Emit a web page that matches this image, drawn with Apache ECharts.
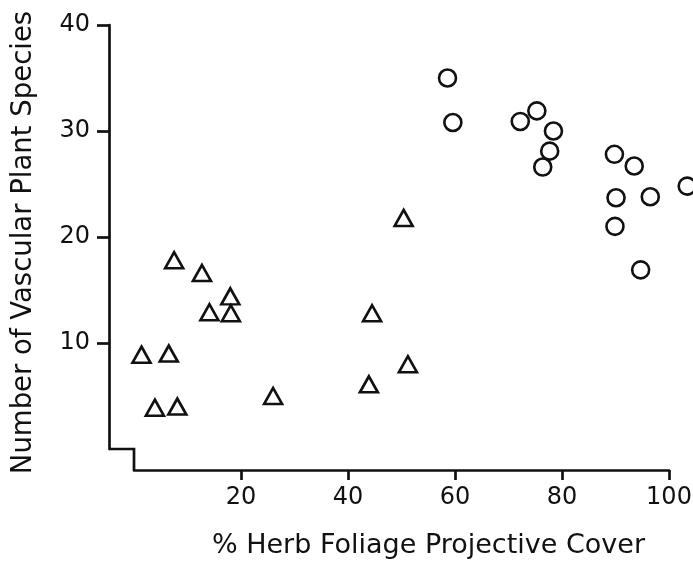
<!DOCTYPE html>
<html>
<head>
<meta charset="utf-8">
<script src="https://cdn.jsdelivr.net/npm/echarts@6/dist/echarts.min.js"></script>
<style>
  html, body { margin: 0; padding: 0; background: #fff; }
  #chart { width: 693px; height: 564px; }
</style>
</head>
<body>
<div id="chart"></div>
<script>
// Open triangles
const triX = [7.5, 12.7, 18.0, 14.1, 18.1, 1.4, 6.5, 3.9, 8.1, 26.0, 50.4, 44.5, 51.2, 43.9];
const triY = [17.8, 16.6, 14.4, 12.9, 12.8, 8.9, 9.0, 3.9, 4.0, 5.0, 21.8, 12.8, 8.0, 6.1];
// Open circles
const cirX = [58.6, 59.6, 72.2, 75.3, 78.4, 77.7, 76.4, 89.8, 93.5, 90.1, 96.5, 89.9, 94.7, 103.4];
const cirY = [35.0, 30.8, 30.9, 31.9, 30.0, 28.1, 26.6, 27.8, 26.7, 23.7, 23.8, 21.0, 16.9, 24.8];
// Tick labels
const xTicks = [20, 40, 60, 80, 100];
const yTicks = [10, 20, 30, 40];
const xTitle = '% Herb Foliage Projective Cover';
const yTitle = 'Number of Vascular Plant Species';

const ink = '#111';
const font = 'DejaVu Sans';
const Y_OFF = 25, X_OFF = 21;

const chart = echarts.init(document.getElementById('chart'), null, { renderer: 'canvas' });
const zip = (a, b) => a.map((v, i) => [v, b[i]]);

chart.setOption({
  backgroundColor: '#fff',
  animation: false,
  grid: { left: 134, right: 24, top: 25, bottom: 115, containLabel: false, outerBoundsMode: 'none' },
  xAxis: {
    type: 'value', min: 0, max: 100, interval: 20,
    offset: X_OFF,
    axisLine: { show: true, onZero: false, lineStyle: { color: ink, width: 2.7 } },
    axisTick: { show: true, length: 10, customValues: xTicks, lineStyle: { color: ink, width: 2.7 } },
    axisLabel: { show: true, customValues: xTicks, margin: 16, color: ink, fontFamily: font, fontSize: 24 },
    splitLine: { show: false },
    name: xTitle, nameLocation: 'middle', nameGap: 62,
    nameTextStyle: { color: ink, fontFamily: font, fontSize: 27, padding: [0, 0, 0, 54] }
  },
  yAxis: {
    type: 'value', min: 0, max: 40, interval: 10,
    offset: Y_OFF,
    axisLine: { show: true, onZero: false, lineStyle: { color: ink, width: 2.7 } },
    axisTick: { show: true, length: 12, customValues: yTicks, lineStyle: { color: ink, width: 2.7 } },
    axisLabel: { show: true, customValues: yTicks, margin: 19, color: ink, fontFamily: font, fontSize: 24 },
    splitLine: { show: false },
    name: yTitle, nameLocation: 'middle', nameGap: 71,
    nameTextStyle: { color: ink, fontFamily: font, fontSize: 27.5, padding: [0, 11, 0, 0] }
  },
  series: [
    {
      type: 'scatter', clip: false,
      data: zip(triX, triY),
      symbol: 'triangle', symbolSize: [18, 16],
      itemStyle: { color: '#fff', borderColor: ink, borderWidth: 2.6, opacity: 1 }
    },
    {
      type: 'scatter', clip: false,
      data: zip(cirX, cirY),
      symbol: 'circle', symbolSize: 17,
      itemStyle: { color: 'rgba(0,0,0,0)', borderColor: ink, borderWidth: 2.6, opacity: 1 }
    }
  ]
});

// Stepped corner joining the offset axes
const p = chart.convertToPixel({ gridIndex: 0 }, [0, 0]);
chart.setOption({
  graphic: [{
    type: 'polyline',
    shape: { points: [[p[0] - Y_OFF, p[1]], [p[0], p[1]], [p[0], p[1] + X_OFF]] },
    style: { stroke: ink, lineWidth: 2.7, fill: null }
  }]
});
</script>
</body>
</html>
